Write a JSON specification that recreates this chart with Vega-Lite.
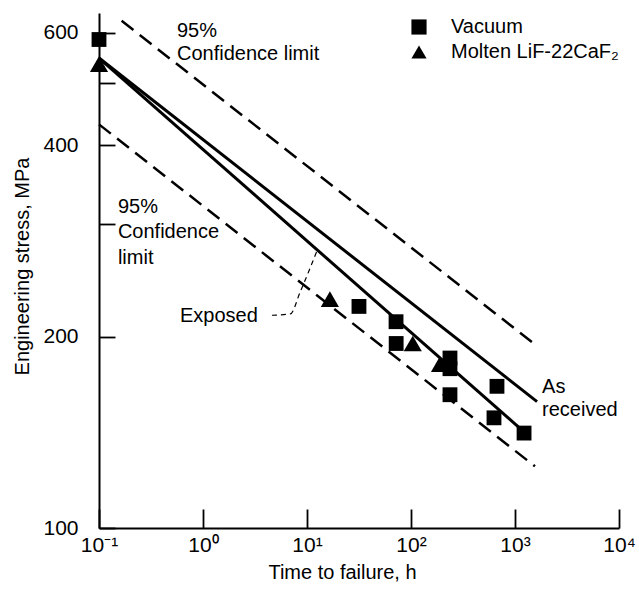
{
  "$schema": "https://vega.github.io/schema/vega-lite/v6.json",
  "width": 520,
  "height": 515,
  "autosize": "none",
  "padding": {"left": 99, "top": 13, "right": 20, "bottom": 61},
  "background": "white",
  "config": {
    "view": {"stroke": null},
    "font": "Liberation Sans",
    "axis": {"domainColor": "black", "domainWidth": 2, "tickColor": "black", "tickWidth": 1.8, "labelColor": "black", "titleColor": "black", "labelFont": "Liberation Sans", "titleFont": "Liberation Sans", "labelFontSize": 21, "titleFontSize": 20, "titleFontWeight": "normal", "grid": false, "labelFlush": false, "labelOverlap": false}
  },
  "datasets": {
    "lines": [
      {"series": "As received", "kind": "solid", "time": 0.1, "stress": 548},
      {"series": "As received", "kind": "solid", "time": 1629, "stress": 158},
      {"series": "Exposed", "kind": "solid", "time": 0.1, "stress": 548},
      {"series": "Exposed", "kind": "solid", "time": 1393, "stress": 139},
      {"series": "Upper 95%", "kind": "dashed", "time": 0.165, "stress": 627},
      {"series": "Upper 95%", "kind": "dashed", "time": 1455, "stress": 196},
      {"series": "Lower 95%", "kind": "dashed", "time": 0.1, "stress": 431},
      {"series": "Lower 95%", "kind": "dashed", "time": 1556, "stress": 125},
      {"series": "Leader", "kind": "leader", "time": 4.6, "stress": 216},
      {"series": "Leader", "kind": "leader", "time": 6.9, "stress": 217},
      {"series": "Leader", "kind": "leader", "time": 8.6, "stress": 235},
      {"series": "Leader", "kind": "leader", "time": 12.5, "stress": 273}
    ],
    "points": [
      {"env": "Vacuum", "time": 0.1, "stress": 586},
      {"env": "Vacuum", "time": 31.6, "stress": 223},
      {"env": "Vacuum", "time": 71.8, "stress": 211},
      {"env": "Vacuum", "time": 72, "stress": 195},
      {"env": "Vacuum", "time": 237, "stress": 185},
      {"env": "Vacuum", "time": 237, "stress": 178},
      {"env": "Vacuum", "time": 237, "stress": 162},
      {"env": "Vacuum", "time": 671, "stress": 167},
      {"env": "Vacuum", "time": 628, "stress": 149},
      {"env": "Vacuum", "time": 1222, "stress": 141},
      {"env": "Molten LiF-22CaF₂", "time": 0.1, "stress": 536},
      {"env": "Molten LiF-22CaF₂", "time": 16.6, "stress": 229},
      {"env": "Molten LiF-22CaF₂", "time": 104, "stress": 195},
      {"env": "Molten LiF-22CaF₂", "time": 190, "stress": 181}
    ],
    "labels": [
      {"text": "95%", "time": 0.562, "stress": 591},
      {"text": "Confidence limit", "time": 0.562, "stress": 544},
      {"text": "95%", "time": 0.152, "stress": 313},
      {"text": "Confidence", "time": 0.152, "stress": 286},
      {"text": "limit", "time": 0.152, "stress": 260},
      {"text": "Exposed", "time": 0.601, "stress": 211},
      {"text": "As", "time": 1820, "stress": 163},
      {"text": "received", "time": 1820, "stress": 150}
    ]
  },
  "layer": [
    {
      "data": {"name": "lines"},
      "transform": [{"filter": "datum.kind == 'solid'"}],
      "mark": {"type": "line", "color": "black", "strokeWidth": 3},
      "encoding": {
        "x": {"field": "time", "type": "quantitative",
          "scale": {"type": "log", "domain": [0.1, 10000], "nice": false},
          "axis": {"values": [0.1, 1, 10, 100, 1000, 10000], "tickSize": -19, "labelPadding": 42, "labelBaseline": "alphabetic", "labelFontSize": 21,
            "labelExpr": "datum.value < 0.5 ? '10⁻¹' : datum.value < 5 ? '10⁰' : datum.value < 50 ? '10¹' : datum.value < 500 ? '10²' : datum.value < 5000 ? '10³' : '10⁴'",
            "title": "Time to failure, h", "titleX": 243, "titleY": 50, "titleBaseline": "alphabetic"}},
        "y": {"field": "stress", "type": "quantitative",
          "scale": {"type": "log", "domain": [100, 645], "nice": false},
          "axis": {"values": [100, 200, 300, 400, 500, 600], "labelFontSize": 21,
            "tickSize": -16,
            "encode": {"ticks": {"update": {"x2": {"signal": "datum.value == 300 || datum.value == 500 ? 8 : 16"}}}},
            "labelPadding": 37, "labelBaseline": "middle",
            "labelExpr": "datum.value == 300 || datum.value == 500 ? '' : datum.label", "format": "d",
            "title": "Engineering stress, MPa", "titleX": -71, "titleY": 253, "titleBaseline": "alphabetic", "titleAngle": 270}},
        "detail": {"field": "series"}
      }
    },
    {
      "data": {"name": "lines"},
      "transform": [{"filter": "datum.kind == 'dashed'"}],
      "mark": {"type": "line", "color": "black", "strokeWidth": 2.5, "strokeDash": [15, 8]},
      "encoding": {
        "x": {"field": "time", "type": "quantitative"},
        "y": {"field": "stress", "type": "quantitative"},
        "detail": {"field": "series"}
      }
    },
    {
      "data": {"name": "lines"},
      "transform": [{"filter": "datum.kind == 'leader'"}],
      "mark": {"type": "line", "color": "black", "strokeWidth": 1.2, "strokeDash": [5, 4], "interpolate": "monotone"},
      "encoding": {
        "x": {"field": "time", "type": "quantitative"},
        "y": {"field": "stress", "type": "quantitative"},
        "detail": {"field": "series"}
      }
    },
    {
      "data": {"name": "points"},
      "transform": [{"filter": "datum.env == 'Vacuum'"}],
      "mark": {"type": "point", "filled": true, "color": "black", "opacity": 1, "size": 220},
      "encoding": {
        "x": {"field": "time", "type": "quantitative"},
        "y": {"field": "stress", "type": "quantitative"},
        "shape": {"field": "env", "type": "nominal",
          "scale": {"domain": ["Vacuum", "Molten LiF-22CaF₂"], "range": ["square", "triangle-up"]},
          "legend": {"title": null, "orient": "none", "legendX": 310, "legendY": 4, "padding": 0, "rowPadding": 5,
            "symbolSize": 230, "symbolFillColor": "black", "symbolStrokeWidth": 0, "labelOffset": 22,
            "labelFontSize": 20, "labelFont": "Liberation Sans", "labelColor": "black", "labelLimit": 300}}
      }
    },
    {
      "data": {"name": "points"},
      "transform": [{"filter": "datum.env != 'Vacuum'"}],
      "mark": {"type": "point", "filled": true, "color": "black", "opacity": 1, "size": 330},
      "encoding": {
        "x": {"field": "time", "type": "quantitative"},
        "y": {"field": "stress", "type": "quantitative"},
        "shape": {"field": "env", "type": "nominal"}
      }
    },
    {
      "data": {"name": "labels"},
      "mark": {"type": "text", "align": "left", "baseline": "alphabetic", "fontSize": 20, "font": "Liberation Sans", "color": "black"},
      "encoding": {
        "x": {"field": "time", "type": "quantitative"},
        "y": {"field": "stress", "type": "quantitative"},
        "text": {"field": "text"}
      }
    }
  ]
}
